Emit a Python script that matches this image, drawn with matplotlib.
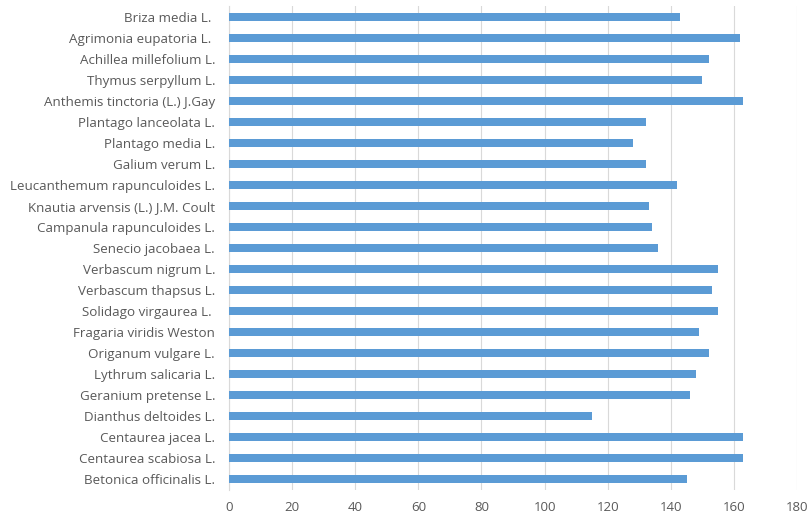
import matplotlib
matplotlib.use("Agg")
import matplotlib.pyplot as plt

# species, top to bottom as listed
species = [
    "Briza media L. ",
    "Agrimonia eupatoria L. ",
    "Achillea millefolium L.",
    "Thymus serpyllum L.",
    "Anthemis tinctoria (L.) J.Gay",
    "Plantago lanceolata L.",
    "Plantago media L.",
    "Galium verum L.",
    "Leucanthemum rapunculoides L.",
    "Knautia arvensis (L.) J.M. Coult",
    "Campanula rapunculoides L.",
    "Senecio jacobaea L.",
    "Verbascum nigrum L.",
    "Verbascum thapsus L.",
    "Solidago virgaurea L. ",
    "Fragaria viridis Weston",
    "Origanum vulgare L.",
    "Lythrum salicaria L.",
    "Geranium pretense L.",
    "Dianthus deltoides L.",
    "Centaurea jacea L.",
    "Centaurea scabiosa L.",
    "Betonica officinalis L.",
]
values = [143, 162, 152, 150, 163, 132, 128, 132, 142, 133, 134, 136,
          155, 153, 155, 149, 152, 148, 146, 115, 163, 163, 145]
xticks = [0, 20, 40, 60, 80, 100, 120, 140, 160, 180]

bar_color = "#5b9bd5"
text_color = "#595959"
grid_color = "#d9d9d9"

plt.rcParams["font.family"] = ["Open Sans", "DejaVu Sans"]

fig = plt.figure(figsize=(8.1, 5.15), dpi=100)
ax = fig.add_axes([229 / 810, 1 - 490 / 515, (797 - 229) / 810, (490 - 6) / 515])

pos = list(range(len(species)))[::-1]
ax.barh(pos, values, height=0.38, color=bar_color, zorder=3)

ax.set_xlim(0, 180)
ax.set_ylim(-0.5, len(species) - 0.5)
ax.set_xticks(xticks)
ax.set_xticklabels([str(t) for t in xticks], color=text_color, fontsize=9.5)
ax.set_yticks(pos)
ax.set_yticklabels(species, color=text_color, fontsize=9.6)

ax.grid(axis="x", color=grid_color, linewidth=0.8, zorder=0)
ax.tick_params(axis="both", length=0)
ax.tick_params(axis="x", pad=8)
ax.tick_params(axis="y", pad=10)
for side in ["top", "right", "bottom"]:
    ax.spines[side].set_visible(False)
ax.spines["left"].set_color(grid_color)
ax.spines["left"].set_linewidth(0.8)

fig.savefig("out.png", dpi=100)
